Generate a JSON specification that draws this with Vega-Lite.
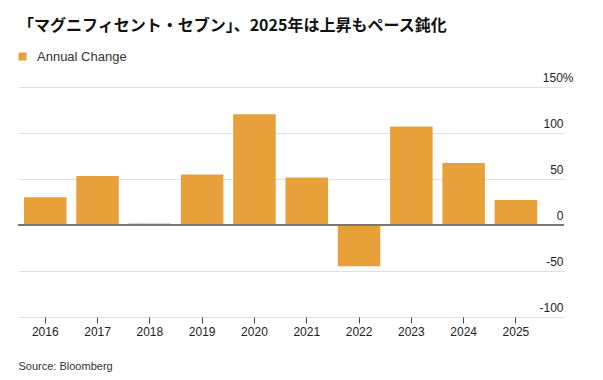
{
  "$schema": "https://vega.github.io/schema/vega-lite/v6.json",
  "autosize": {"type": "none"},
  "padding": {"left": 18, "top": 87, "right": 39, "bottom": 63},
  "width": 546,
  "height": 230,
  "background": "white",
  "title": {
    "text": "「マグニフィセント・セブン」、2025年は上昇もペース鈍化",
    "anchor": "start",
    "frame": "group",
    "font": "Noto Sans CJK JP",
    "fontSize": 16,
    "fontWeight": "bold",
    "color": "#111111",
    "offset": 16
  },
  "config": {
    "view": {"stroke": null},
    "font": "Liberation Sans"
  },
  "data": {
    "values": [
      {"year": "2016", "change": 30.1, "series": "Annual Change"},
      {"year": "2017", "change": 53.3, "series": "Annual Change"},
      {"year": "2018", "change": 1.5, "series": "Annual Change"},
      {"year": "2019", "change": 54.8, "series": "Annual Change"},
      {"year": "2020", "change": 120.3, "series": "Annual Change"},
      {"year": "2021", "change": 51.5, "series": "Annual Change"},
      {"year": "2022", "change": -44.9, "series": "Annual Change"},
      {"year": "2023", "change": 107.0, "series": "Annual Change"},
      {"year": "2024", "change": 67.4, "series": "Annual Change"},
      {"year": "2025", "change": 27.2, "series": "Annual Change"}
    ]
  },
  "layer": [
    {
      "mark": {"type": "bar"},
      "encoding": {
        "x": {
          "field": "year",
          "type": "ordinal",
          "scale": {"paddingInner": 0.187, "paddingOuter": 0.3136, "align": 0.183},
          "axis": {
            "orient": "bottom",
            "labelAngle": 0,
            "labelFont": "Liberation Sans",
            "labelFontSize": 12,
            "labelColor": "#222222",
            "labelPadding": 3,
            "ticks": true,
            "tickSize": 6,
            "tickColor": "#444444",
            "domain": false,
            "grid": false,
            "title": "Source: Bloomberg",
            "titleFont": "Liberation Sans",
            "titleFontSize": 11,
            "titleFontWeight": "normal",
            "titleColor": "#333333",
            "titleAnchor": "start",
            "titleAlign": "left",
            "titleBaseline": "middle",
            "titleX": 0,
            "titleY": 49
          }
        },
        "y": {
          "field": "change",
          "type": "quantitative",
          "scale": {"domain": [-100, 150], "nice": false},
          "axis": {
            "orient": "right",
            "values": [-100, -50, 0, 50, 100, 150],
            "labelExpr": "datum.value == 150 ? '150%' : '' + datum.value",
            "labelAlign": "right",
            "labelBaseline": "alphabetic",
            "labelOffset": -6,
            "labelPadding": {"condition": {"test": "datum.value == 150", "value": 9}, "value": -1},
            "labelFont": "Liberation Sans",
            "labelFontSize": 12,
            "labelColor": "#222222",
            "ticks": false,
            "domain": false,
            "grid": true,
            "gridColor": "#e0e0e0",
            "gridWidth": 1,
            "title": null
          }
        },
        "color": {
          "field": "series",
          "type": "nominal",
          "scale": {"range": ["#E8A03A"]},
          "legend": {
            "orient": "none",
            "legendX": -2,
            "legendY": -37,
            "title": null,
            "padding": 0,
            "symbolType": "square",
            "symbolSize": 64,
            "symbolStrokeWidth": 0,
            "labelFont": "Liberation Sans",
            "labelFontSize": 13,
            "labelColor": "#333333",
            "labelOffset": 8
          }
        }
      }
    },
    {
      "mark": {"type": "rule", "color": "#777777", "strokeWidth": 1},
      "encoding": {"y": {"datum": 0}}
    }
  ]
}
